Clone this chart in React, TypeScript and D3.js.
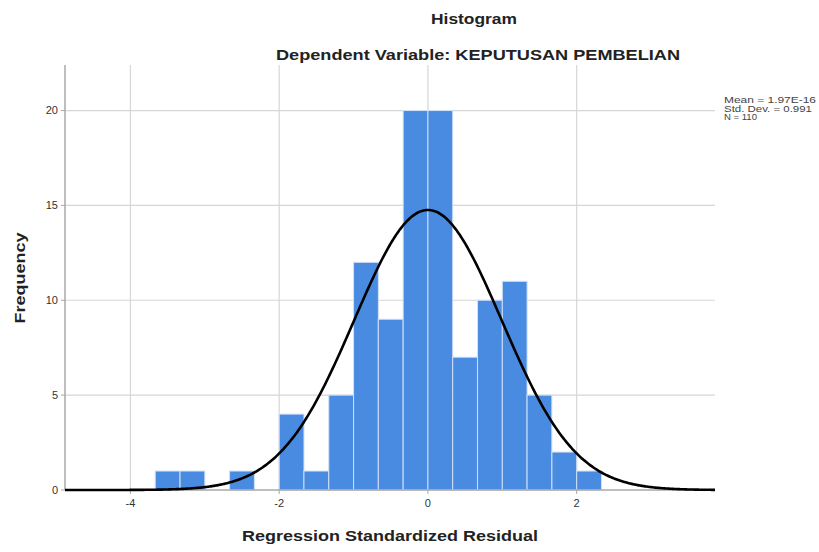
import React from "react";
import * as d3 from "d3";

const binLower = [-3.667, -3.333, -3.0, -2.667, -2.333, -2.0, -1.667, -1.333, -1.0, -0.667, -0.333, 0.0, 0.333, 0.667, 1.0, 1.333, 1.667, 2.0];
const binCounts = [1, 1, 0, 1, 0, 4, 1, 5, 12, 9, 20, 20, 7, 10, 11, 5, 2, 1];
const binWidth = 0.3333;
const xTicks = [-4, -2, 0, 2];
const yTicks = [0, 5, 10, 15, 20];
const statMean = 1.97e-16;
const statSD = 0.991;
const statN = 110;
const legendLines = ["Mean = 1.97E-16", "Std. Dev. = 0.991", "N = 110"];
const titleText = "Histogram";
const subtitleText = "Dependent Variable: KEPUTUSAN PEMBELIAN";
const xTitle = "Regression Standardized Residual";
const yTitle = "Frequency";

const W = 819, H = 552;
const L = 65, R = 715, T = 65, B = 490;
const FONT = "'Liberation Sans', Arial, sans-serif";

export default function App() {
  const x = d3.scaleLinear().domain([-4.88, 3.86]).range([L, R]);
  const y = d3.scaleLinear().domain([0, 22.4]).range([B, T]);

  const curvePts = d3.range(-4.88, 3.861, 0.02).map((v) => {
    const z = (v - statMean) / statSD;
    const f = (statN * binWidth) / (statSD * Math.sqrt(2 * Math.PI)) * Math.exp(-0.5 * z * z);
    return [v, f] as [number, number];
  });
  const line = d3.line<[number, number]>().x((d) => x(d[0])).y((d) => y(d[1])).curve(d3.curveBasis);

  return (
    <svg width={W} height={H} style={{ position: "absolute", left: 0, top: 0, background: "#fff" }} fontFamily={FONT}>
      <rect x={0} y={0} width={W} height={H} fill="#fff" />
      {yTicks.filter((t) => t > 0).map((t) => (
        <line key={"gy" + t} x1={L} x2={R} y1={y(t)} y2={y(t)} stroke="#d6d6d6" strokeWidth={1.2} />
      ))}
      {xTicks.map((t) => (
        <line key={"gx" + t} x1={x(t)} x2={x(t)} y1={T} y2={B} stroke="#d6d6d6" strokeWidth={1.2} />
      ))}
      {binLower.map((b, i) =>
        binCounts[i] > 0 ? (
          <rect key={"bar" + i} x={x(b)} y={y(binCounts[i])} width={x(b + binWidth) - x(b)} height={y(0) - y(binCounts[i])}
            fill="#4a8be2" stroke="#cfe0f7" strokeWidth={1} />
        ) : null
      )}
      <line x1={L} x2={L} y1={T} y2={B} stroke="#a8a8a8" strokeWidth={1.5} />
      <line x1={L} x2={R} y1={B} y2={B} stroke="#a8a8a8" strokeWidth={1.5} />
      {yTicks.map((t) => (
        <g key={"ty" + t}>
          <line x1={L - 4} x2={L} y1={y(t)} y2={y(t)} stroke="#a8a8a8" strokeWidth={1} />
          <text x={L - 7} y={y(t)} dy="0.35em" textAnchor="end" fontSize={11} fill="#333">{t}</text>
        </g>
      ))}
      {xTicks.map((t) => (
        <g key={"tx" + t}>
          <line x1={x(t)} x2={x(t)} y1={B} y2={B + 4} stroke="#a8a8a8" strokeWidth={1} />
          <text x={x(t)} y={B + 17} textAnchor="middle" fontSize={11} fill="#333">{t}</text>
        </g>
      ))}
      <path d={line(curvePts) || ""} fill="none" stroke="#000" strokeWidth={2.6} />
      <text x={474} y={24} textAnchor="middle" fontSize={15} fontWeight="bold" fill="#222" textLength={86} lengthAdjust="spacingAndGlyphs">{titleText}</text>
      <text x={478} y={60} textAnchor="middle" fontSize={15} fontWeight="bold" fill="#222" textLength={404} lengthAdjust="spacingAndGlyphs">{subtitleText}</text>
      <text x={390} y={541} textAnchor="middle" fontSize={15} fontWeight="bold" fill="#222" textLength={296} lengthAdjust="spacingAndGlyphs">{xTitle}</text>
      <text transform={`translate(25,278) rotate(-90)`} textAnchor="middle" fontSize={15} fontWeight="bold" fill="#222" textLength={91} lengthAdjust="spacingAndGlyphs">{yTitle}</text>
      {legendLines.map((s, i) => (
        <text key={"lg" + i} x={724} y={103 + i * 8.5} fontSize={8.5} fill="#444"
          textLength={i === 0 ? 92 : i === 1 ? 88 : 33} lengthAdjust="spacingAndGlyphs">{s}</text>
      ))}
    </svg>
  );
}
